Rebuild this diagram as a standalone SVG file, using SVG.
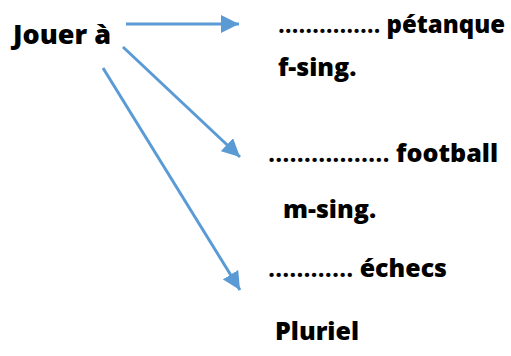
<svg xmlns="http://www.w3.org/2000/svg" width="511" height="356" viewBox="0 0 511 356">
<style>
.t{font-family:"Open Sans","Noto Sans",sans-serif;font-weight:800;font-size:25px;fill:#000}
.j{font-size:27px}
.d{font-weight:700}
.c{stroke:#5b9bd5;stroke-width:3;fill:none}
</style>
<defs>
<marker id="ah" markerWidth="6" markerHeight="6" refX="6" refY="3" orient="auto" markerUnits="strokeWidth">
<path d="M0,0 L6,3 L0,6 Z" fill="#5b9bd5"/>
</marker>
</defs>
<rect width="511" height="356" fill="#fff"/>
<g id="connectors">
<line class="c" x1="126" y1="24" x2="239" y2="24" marker-end="url(#ah)"/>
<line class="c" x1="123" y1="47" x2="240" y2="157" marker-end="url(#ah)"/>
<line class="c" x1="103" y1="68" x2="240" y2="290" marker-end="url(#ah)"/>
</g>
<g id="jouer"><text class="t j" x="13" y="44">Jouer à</text></g>
<g id="petanque"><text class="t" x="278" y="33" font-size="24" textLength="227" lengthAdjust="spacingAndGlyphs"><tspan class="d">……………</tspan> pétanque</text></g>
<g id="fsing"><text class="t" x="278" y="76">f-sing.</text></g>
<g id="football"><text class="t" x="268" y="162" textLength="230" lengthAdjust="spacingAndGlyphs"><tspan class="d">……………..</tspan> football</text></g>
<g id="msing"><text class="t" x="283" y="218">m-sing.</text></g>
<g id="echecs"><text class="t" x="268" y="277" textLength="179" lengthAdjust="spacingAndGlyphs"><tspan class="d">…………</tspan> échecs</text></g>
<g id="pluriel"><text class="t" x="275" y="340">Pluriel</text></g>
</svg>
